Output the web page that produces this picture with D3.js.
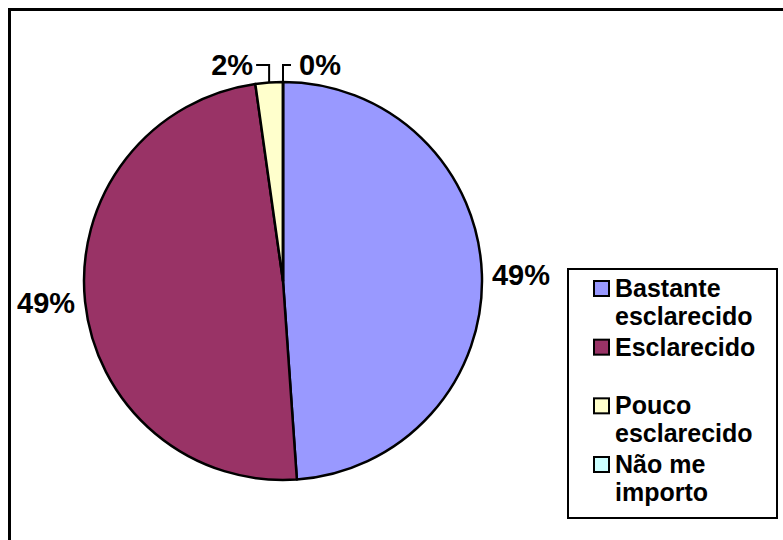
<!doctype html>
<html>
<head>
<meta charset="utf-8">
<title>Pie</title>
<style>
  body { margin: 0; background: #fff; }
  text { font-family: "Liberation Sans", Arial, sans-serif; font-weight: bold; fill: #000; }
</style>
<script src="https://cdn.jsdelivr.net/npm/d3@7/dist/d3.min.js"></script>
</head>
<body>
<svg width="783" height="540"></svg>
<script>
var categories = ['Bastante esclarecido', 'Esclarecido', 'Pouco esclarecido', 'Não me importo'];
var legendLines = [['Bastante', 'esclarecido'], ['Esclarecido'], ['Pouco', 'esclarecido'], ['Não me', 'importo']];
var values = [22, 22, 1, 0];
var colors = ['#9999FF', '#993366', '#FFFFCC', '#CCFFFF'];

var svg = d3.select('svg');
var cx = 283, cy = 281, r = 199;
var total = d3.sum(values);

// outer frame (cut off at right and bottom)
svg.append('rect')
  .attr('x', 9.5).attr('y', 9.5)
  .attr('width', 820).attr('height', 580)
  .attr('fill', 'none').attr('stroke', '#000').attr('stroke-width', 3);

var pie = d3.pie().sort(null).value(function(d){ return d; });
var arcs = pie(values);
var arc = d3.arc().innerRadius(0).outerRadius(r);

var g = svg.append('g').attr('transform', 'translate(' + cx + ',' + cy + ')');

g.selectAll('path.slice')
  .data(arcs)
  .enter().append('path')
  .attr('class', 'slice')
  .attr('d', arc)
  .attr('fill', function(d, i){ return colors[i]; })
  .attr('stroke', '#000')
  .attr('stroke-width', 2.5)
  .attr('stroke-linejoin', 'round');

var fmt = d3.format('.0%');

arcs.forEach(function(d, i){
  var mid = (d.startAngle + d.endAngle) / 2;
  var px = r * Math.sin(mid), py = -r * Math.cos(mid);
  var label = fmt(values[i] / total);
  var big = (d.endAngle - d.startAngle) > 0.5;

  if (big) {
    var right = px > 0;
    g.append('text')
      .attr('x', px + (right ? 10 : -10))
      .attr('y', py + 11)
      .attr('text-anchor', right ? 'start' : 'end')
      .style('font-size', '29px')
      .text(label);
  } else {
    // label above the top with an elbow leader
    var ly = -216;
    var left = i === 2;
    var hx = px + (left ? -13 : 8);
    g.append('path')
      .attr('d', 'M' + px + ',' + py + 'V' + ly + 'H' + hx)
      .attr('fill', 'none').attr('stroke', '#000').attr('stroke-width', 2);
    g.append('text')
      .attr('x', hx + (left ? -3 : 8))
      .attr('y', ly + 10)
      .attr('text-anchor', left ? 'end' : 'start')
      .style('font-size', '29px')
      .text(label);
  }
});

// legend
var lx = 568, ly0 = 269, lw = 209, lh = 249;
svg.append('rect')
  .attr('x', lx).attr('y', ly0)
  .attr('width', lw).attr('height', lh)
  .attr('fill', '#fff').attr('stroke', '#000').attr('stroke-width', 2);

var rowY = d3.scalePoint()
  .domain(categories)
  .range([297, 473]);

var item = svg.selectAll('g.item')
  .data(categories)
  .enter().append('g')
  .attr('class', 'item')
  .attr('transform', function(d){ return 'translate(0,' + rowY(d) + ')'; });

item.append('rect')
  .attr('x', 594).attr('y', -16)
  .attr('width', 15).attr('height', 15)
  .attr('fill', function(d, i){ return colors[i]; })
  .attr('stroke', '#000').attr('stroke-width', 2);

item.append('text')
  .attr('x', 615)
  .style('font-size', '25px')
  .selectAll('tspan')
  .data(function(d, i){ return legendLines[i]; })
  .enter().append('tspan')
  .attr('x', 615)
  .attr('dy', function(d, j){ return j === 0 ? 0 : 28; })
  .text(function(d){ return d; });
</script>
</body>
</html>
